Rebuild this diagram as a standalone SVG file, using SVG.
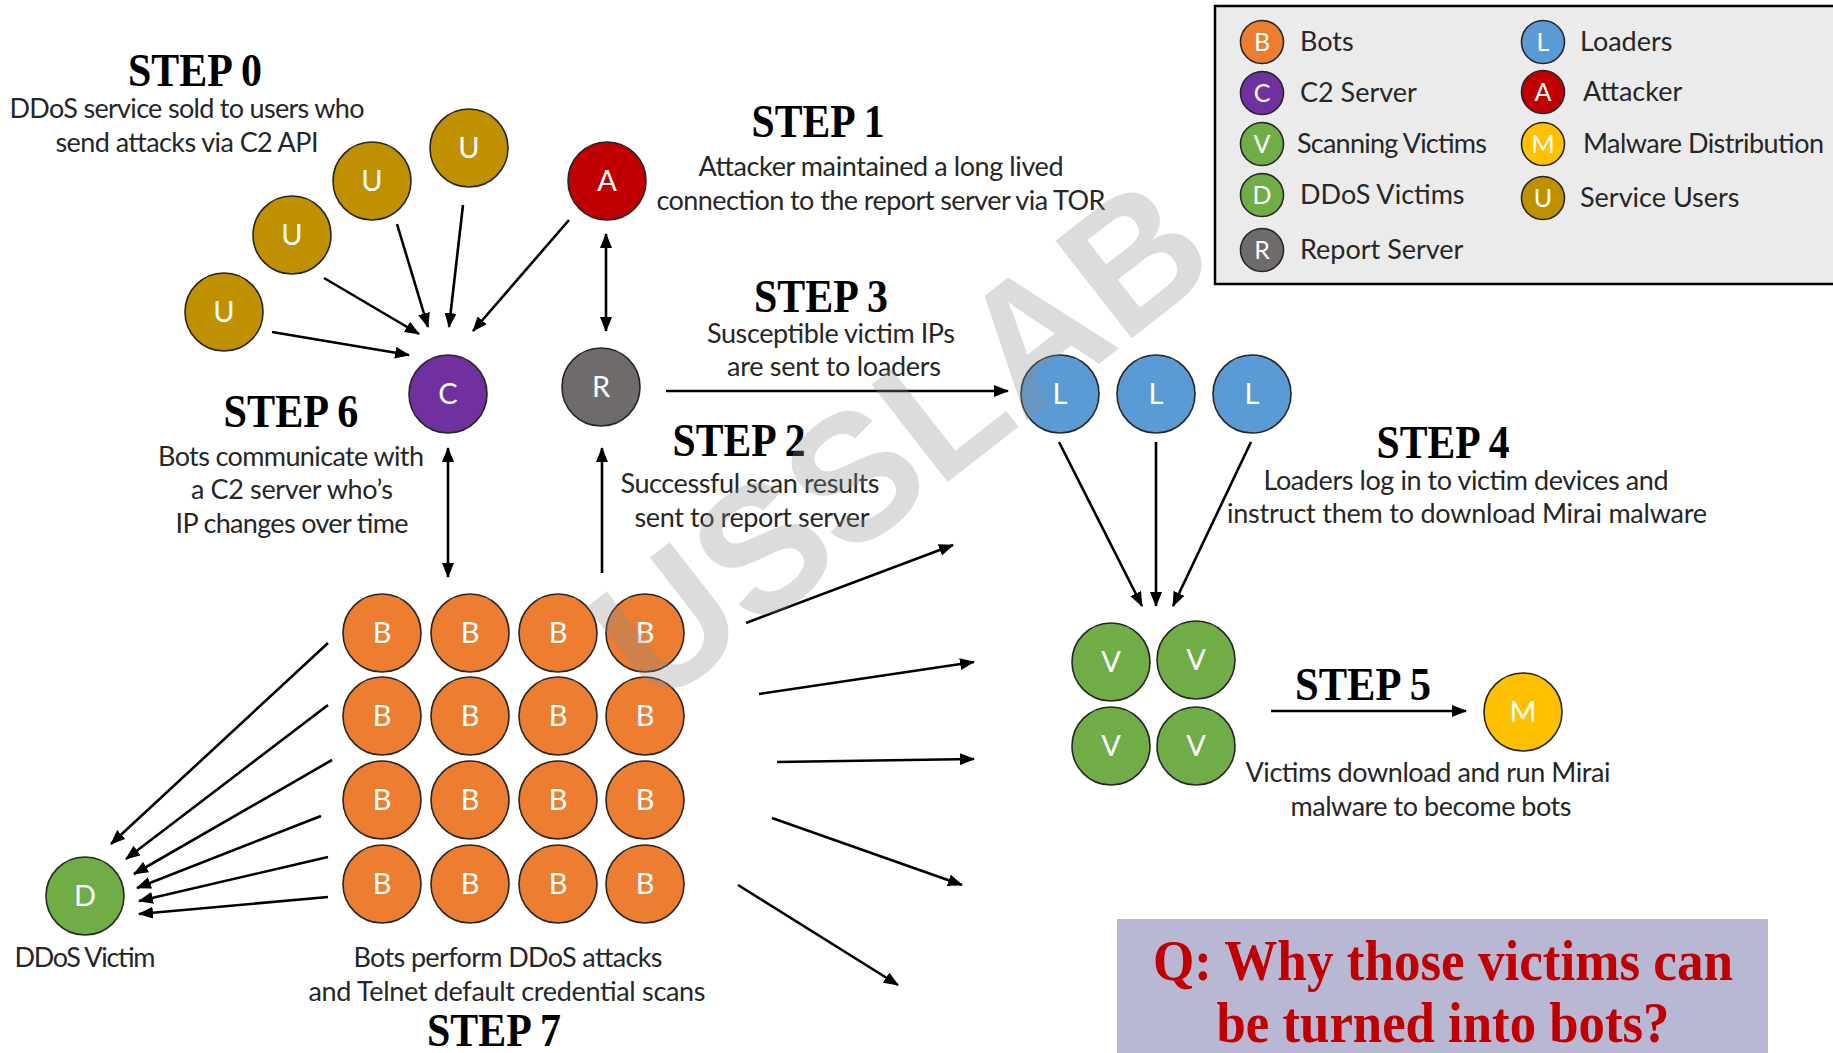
<svg xmlns="http://www.w3.org/2000/svg" width="1833" height="1053" viewBox="0 0 1833 1053">
  <style>
    .bg { fill: #ffffff; }
    .nd { stroke: #262626; stroke-width: 1.6; }
    .b { fill: #ED7D31; }
    .c { fill: #7030A0; }
    .v { fill: #70AD47; }
    .r { fill: #6F6B6B; }
    .l { fill: #5B9BD5; }
    .a { fill: #C00000; }
    .m { fill: #FFC000; }
    .u { fill: #BF9000; }
    .glyph { font-family: Lato, "Open Sans", "Liberation Sans", sans-serif; font-size: 29px; fill: #ffffff; text-anchor: middle; }
    .lglyph { font-family: Lato, "Open Sans", "Liberation Sans", sans-serif; font-size: 25px; fill: #ffffff; text-anchor: middle; }
    .step { font-family: "Liberation Serif", "Times New Roman", serif; font-weight: bold; font-size: 46px; fill: #000; text-anchor: middle; }
    .desc { font-family: Lato, "Open Sans", "Liberation Sans", sans-serif; font-size: 27px; fill: #262626; text-anchor: middle; }
    .leg { font-family: Lato, "Open Sans", "Liberation Sans", sans-serif; font-size: 27px; fill: #262626; }
    .conn line { stroke: #000; stroke-width: 2.6; fill: none; }
    .q { font-family: "Liberation Serif", "Times New Roman", serif; font-weight: bold; font-size: 56px; fill: #C00000; text-anchor: middle; }
  </style>
  <defs>
    <marker id="ah" markerUnits="userSpaceOnUse" markerWidth="16" markerHeight="12" refX="14" refY="6" orient="auto-start-reverse">
      <path d="M0,0 L15,6 L0,12 Z" fill="#000"/>
    </marker>
  </defs>

  <rect class="bg" x="0" y="0" width="1833" height="1053"/>

  <!-- connectors -->
  <g id="connectors" class="conn">
    <!-- service users and attacker to C2 -->
    <line x1="272" y1="332" x2="409" y2="355" marker-end="url(#ah)"/>
    <line x1="324" y1="278" x2="419" y2="334" marker-end="url(#ah)"/>
    <line x1="397" y1="224" x2="428" y2="327" marker-end="url(#ah)"/>
    <line x1="463" y1="205" x2="449" y2="327" marker-end="url(#ah)"/>
    <line x1="569" y1="220" x2="473" y2="331" marker-end="url(#ah)"/>
    <!-- attacker <-> report server -->
    <line x1="606" y1="234" x2="606" y2="331" marker-start="url(#ah)" marker-end="url(#ah)"/>
    <!-- report server to loaders -->
    <line x1="666" y1="391" x2="1008" y2="391" marker-end="url(#ah)"/>
    <!-- C2 <-> bots -->
    <line x1="448" y1="448" x2="448" y2="577" marker-start="url(#ah)" marker-end="url(#ah)"/>
    <!-- bots to report server -->
    <line x1="602" y1="573" x2="602" y2="448" marker-end="url(#ah)"/>
    <!-- loaders to victims -->
    <line x1="1059" y1="442" x2="1142" y2="606" marker-end="url(#ah)"/>
    <line x1="1156" y1="442" x2="1156" y2="606" marker-end="url(#ah)"/>
    <line x1="1251" y1="442" x2="1173" y2="606" marker-end="url(#ah)"/>
    <!-- victims to malware distribution -->
    <line x1="1271" y1="711" x2="1466" y2="711" marker-end="url(#ah)"/>
    <!-- bots scanning outward -->
    <line x1="746" y1="623" x2="953" y2="545" marker-end="url(#ah)"/>
    <line x1="759" y1="694" x2="974" y2="662" marker-end="url(#ah)"/>
    <line x1="777" y1="762" x2="974" y2="759" marker-end="url(#ah)"/>
    <line x1="772" y1="818" x2="962" y2="885" marker-end="url(#ah)"/>
    <line x1="738" y1="885" x2="898" y2="985" marker-end="url(#ah)"/>
    <!-- bots attacking the DDoS victim -->
    <line x1="328" y1="643" x2="111" y2="844" marker-end="url(#ah)"/>
    <line x1="328" y1="705" x2="126" y2="859" marker-end="url(#ah)"/>
    <line x1="332" y1="760" x2="134" y2="874" marker-end="url(#ah)"/>
    <line x1="321" y1="816" x2="137" y2="888" marker-end="url(#ah)"/>
    <line x1="328" y1="857" x2="139" y2="901" marker-end="url(#ah)"/>
    <line x1="328" y1="897" x2="139" y2="914" marker-end="url(#ah)"/>
  </g>

  <!-- service users -->
  <g id="user-1"><circle class="nd u" cx="224" cy="312" r="39"/><text class="glyph" x="224" y="322">U</text></g>
  <g id="user-2"><circle class="nd u" cx="292" cy="235" r="39"/><text class="glyph" x="292" y="245">U</text></g>
  <g id="user-3"><circle class="nd u" cx="372" cy="181" r="39"/><text class="glyph" x="372" y="191">U</text></g>
  <g id="user-4"><circle class="nd u" cx="469" cy="148" r="39"/><text class="glyph" x="469" y="158">U</text></g>
  <!-- attacker, C2, report server -->
  <g id="attacker"><circle class="nd a" cx="607" cy="181" r="39"/><text class="glyph" x="607" y="191">A</text></g>
  <g id="c2"><circle class="nd c" cx="448" cy="394" r="39"/><text class="glyph" x="448" y="404">C</text></g>
  <g id="report"><circle class="nd r" cx="601" cy="387" r="39"/><text class="glyph" x="601" y="397">R</text></g>
  <!-- loaders -->
  <g id="loader-1"><circle class="nd l" cx="1060" cy="394" r="39"/><text class="glyph" x="1060" y="404">L</text></g>
  <g id="loader-2"><circle class="nd l" cx="1156" cy="394" r="39"/><text class="glyph" x="1156" y="404">L</text></g>
  <g id="loader-3"><circle class="nd l" cx="1252" cy="394" r="39"/><text class="glyph" x="1252" y="404">L</text></g>
  <!-- scanning victims -->
  <g id="victim-1"><circle class="nd v" cx="1111" cy="662" r="39"/><text class="glyph" x="1111" y="672">V</text></g>
  <g id="victim-2"><circle class="nd v" cx="1196" cy="660" r="39"/><text class="glyph" x="1196" y="670">V</text></g>
  <g id="victim-3"><circle class="nd v" cx="1111" cy="746" r="39"/><text class="glyph" x="1111" y="756">V</text></g>
  <g id="victim-4"><circle class="nd v" cx="1196" cy="746" r="39"/><text class="glyph" x="1196" y="756">V</text></g>
  <!-- malware distribution -->
  <g id="malware"><circle class="nd m" cx="1523" cy="712" r="39"/><text class="glyph" x="1523" y="722">M</text></g>
  <!-- DDoS victim -->
  <g id="ddos-victim"><circle class="nd v" cx="85" cy="896" r="39"/><text class="glyph" x="85" y="906">D</text></g>

  <!-- bot grid -->
  <g id="bot-1-1"><circle class="nd b" cx="382" cy="633" r="39"/><text class="glyph" x="382" y="643">B</text></g>
  <g id="bot-1-2"><circle class="nd b" cx="470" cy="633" r="39"/><text class="glyph" x="470" y="643">B</text></g>
  <g id="bot-1-3"><circle class="nd b" cx="558" cy="633" r="39"/><text class="glyph" x="558" y="643">B</text></g>
  <g id="bot-1-4"><circle class="nd b" cx="645" cy="633" r="39"/><text class="glyph" x="645" y="643">B</text></g>
  <g id="bot-2-1"><circle class="nd b" cx="382" cy="716" r="39"/><text class="glyph" x="382" y="726">B</text></g>
  <g id="bot-2-2"><circle class="nd b" cx="470" cy="716" r="39"/><text class="glyph" x="470" y="726">B</text></g>
  <g id="bot-2-3"><circle class="nd b" cx="558" cy="716" r="39"/><text class="glyph" x="558" y="726">B</text></g>
  <g id="bot-2-4"><circle class="nd b" cx="645" cy="716" r="39"/><text class="glyph" x="645" y="726">B</text></g>
  <g id="bot-3-1"><circle class="nd b" cx="382" cy="800" r="39"/><text class="glyph" x="382" y="810">B</text></g>
  <g id="bot-3-2"><circle class="nd b" cx="470" cy="800" r="39"/><text class="glyph" x="470" y="810">B</text></g>
  <g id="bot-3-3"><circle class="nd b" cx="558" cy="800" r="39"/><text class="glyph" x="558" y="810">B</text></g>
  <g id="bot-3-4"><circle class="nd b" cx="645" cy="800" r="39"/><text class="glyph" x="645" y="810">B</text></g>
  <g id="bot-4-1"><circle class="nd b" cx="382" cy="884" r="39"/><text class="glyph" x="382" y="894">B</text></g>
  <g id="bot-4-2"><circle class="nd b" cx="470" cy="884" r="39"/><text class="glyph" x="470" y="894">B</text></g>
  <g id="bot-4-3"><circle class="nd b" cx="558" cy="884" r="39"/><text class="glyph" x="558" y="894">B</text></g>
  <g id="bot-4-4"><circle class="nd b" cx="645" cy="884" r="39"/><text class="glyph" x="645" y="894">B</text></g>

  <!-- step headings and descriptions -->
  <g id="labels">
    <text class="step" x="195" y="86" textLength="134" lengthAdjust="spacingAndGlyphs">STEP 0</text>
    <text class="desc" x="187" y="118" textLength="355">DDoS service sold to users who</text>
    <text class="desc" x="187" y="152" textLength="263">send attacks via C2 API</text>

    <text class="step" x="818" y="137" textLength="133" lengthAdjust="spacingAndGlyphs">STEP 1</text>
    <text class="desc" x="881" y="176" textLength="365">Attacker maintained a long lived</text>
    <text class="desc" x="881" y="210" textLength="449">connection to the report server via TOR</text>

    <text class="step" x="821" y="312" textLength="134" lengthAdjust="spacingAndGlyphs">STEP 3</text>
    <text class="desc" x="831" y="343" textLength="248">Susceptible victim IPs</text>
    <text class="desc" x="834" y="376" textLength="214">are sent to loaders</text>

    <text class="step" x="739" y="456" textLength="133" lengthAdjust="spacingAndGlyphs">STEP 2</text>
    <text class="desc" x="750" y="493" textLength="259">Successful scan results</text>
    <text class="desc" x="752" y="527" textLength="235">sent to report server</text>

    <text class="step" x="291" y="427" textLength="135" lengthAdjust="spacingAndGlyphs">STEP 6</text>
    <text class="desc" x="291" y="466" textLength="266">Bots communicate with</text>
    <text class="desc" x="292" y="499" textLength="202">a C2 server who’s</text>
    <text class="desc" x="292" y="533" textLength="233">IP changes over time</text>

    <text class="step" x="1443" y="458" textLength="133" lengthAdjust="spacingAndGlyphs">STEP 4</text>
    <text class="desc" x="1466" y="490" textLength="405">Loaders log in to victim devices and</text>
    <text class="desc" x="1467" y="523" textLength="480">instruct them to download Mirai malware</text>

    <text class="step" x="1363" y="700" textLength="136" lengthAdjust="spacingAndGlyphs">STEP 5</text>
    <text class="desc" x="1428" y="782" textLength="365">Victims download and run Mirai</text>
    <text class="desc" x="1431" y="816" textLength="281">malware to become bots</text>

    <text class="desc" x="85" y="967" textLength="141">DDoS Victim</text>
    <text class="desc" x="508" y="967" textLength="309">Bots perform DDoS attacks</text>
    <text class="desc" x="507" y="1001" textLength="397">and Telnet  default credential scans</text>
    <text class="step" x="494" y="1046" textLength="134" lengthAdjust="spacingAndGlyphs">STEP 7</text>
  </g>

  <!-- legend -->
  <g id="legend">
    <rect x="1215" y="6" width="640" height="278" fill="#EBEBEB" stroke="#000" stroke-width="2.5"/>
    <circle class="nd b" cx="1262" cy="42" r="21.5"/><text class="lglyph" x="1262" y="51">B</text>
    <text class="leg" x="1300" y="51">Bots</text>
    <circle class="nd c" cx="1262" cy="93" r="21.5"/><text class="lglyph" x="1262" y="102">C</text>
    <text class="leg" x="1300" y="102">C2 Server</text>
    <circle class="nd v" cx="1262" cy="144" r="21.5"/><text class="lglyph" x="1262" y="153">V</text>
    <text class="leg" x="1297" y="153" textLength="190">Scanning Victims</text>
    <circle class="nd v" cx="1262" cy="195" r="21.5"/><text class="lglyph" x="1262" y="204">D</text>
    <text class="leg" x="1300" y="204">DDoS Victims</text>
    <circle class="nd r" cx="1262" cy="250" r="21.5"/><text class="lglyph" x="1262" y="259">R</text>
    <text class="leg" x="1300" y="259">Report Server</text>

    <circle class="nd l" cx="1543" cy="42" r="21.5"/><text class="lglyph" x="1543" y="51">L</text>
    <text class="leg" x="1580" y="51">Loaders</text>
    <circle class="nd a" cx="1543" cy="92" r="21.5"/><text class="lglyph" x="1543" y="101">A</text>
    <text class="leg" x="1583" y="101">Attacker</text>
    <circle class="nd m" cx="1543" cy="144" r="21.5"/><text class="lglyph" x="1543" y="153">M</text>
    <text class="leg" x="1583" y="153" textLength="241">Malware Distribution</text>
    <circle class="nd u" cx="1543" cy="198" r="21.5"/><text class="lglyph" x="1543" y="207">U</text>
    <text class="leg" x="1580" y="207">Service Users</text>
  </g>

  <!-- question panel -->
  <g id="question">
    <rect x="1117" y="919" width="651" height="140" fill="#B8B8D4"/>
    <text class="q" x="1443" y="980" textLength="580" lengthAdjust="spacingAndGlyphs">Q: Why those victims can</text>
    <text class="q" x="1443" y="1042" textLength="453" lengthAdjust="spacingAndGlyphs">be turned into bots?</text>
  </g>

  <!-- watermark -->
  <text x="0" y="0" transform="translate(900,440) rotate(-38)" font-family="'Liberation Sans', Arial, sans-serif" font-weight="bold" font-size="180" fill="#8c8c8c" fill-opacity="0.3" text-anchor="middle" dominant-baseline="central" textLength="720" lengthAdjust="spacingAndGlyphs">USSLAB</text>
</svg>
